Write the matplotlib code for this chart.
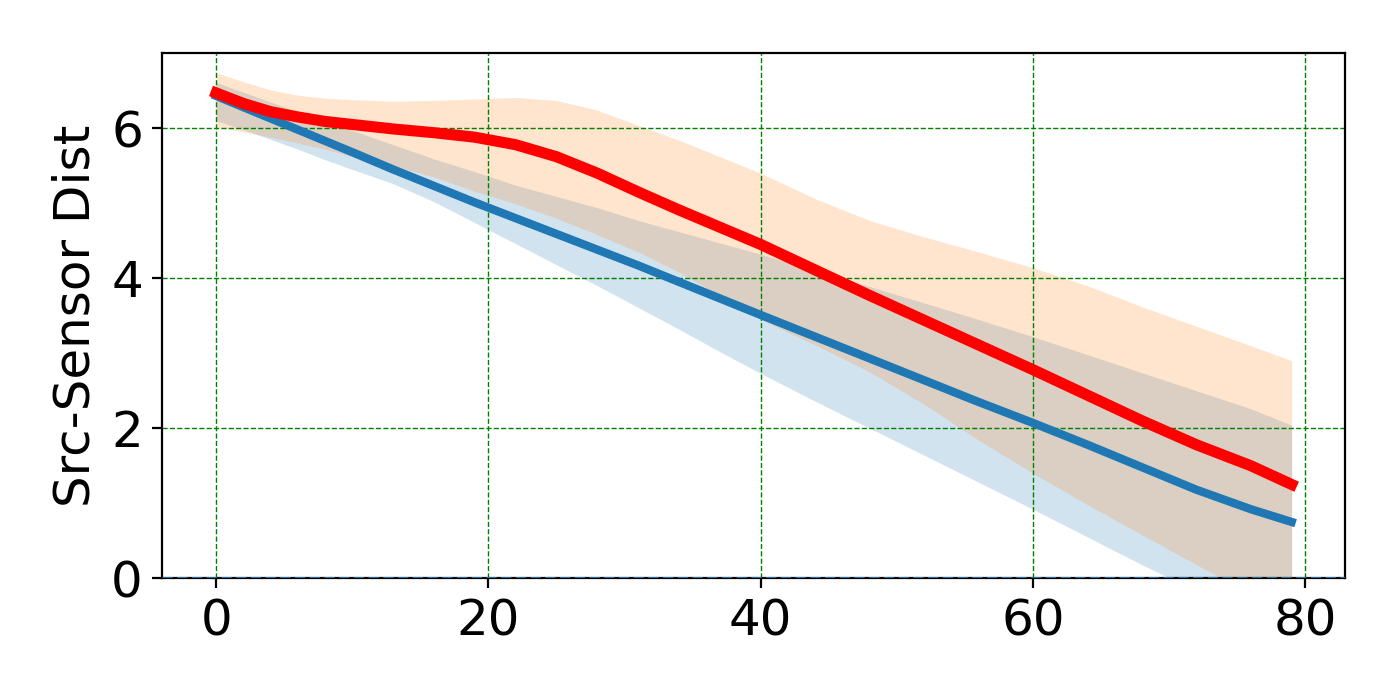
import matplotlib
matplotlib.use("Agg")
import matplotlib.pyplot as plt

# time steps
steps = [0, 2, 4, 6, 8, 10, 13, 16, 19, 22, 25, 28, 31, 34, 37, 40,
         44, 48, 52, 56, 60, 64, 68, 72, 76, 79]

# blue series + band
blue_mean = [6.43, 6.28, 6.13, 5.98, 5.83, 5.68, 5.45, 5.23, 5.01, 4.80, 4.59,
             4.38, 4.17, 3.95, 3.73, 3.51, 3.22, 2.93, 2.64, 2.35, 2.07,
             1.78, 1.48, 1.18, 0.92, 0.75]
blue_low = [6.10, 5.98, 5.85, 5.72, 5.58, 5.45, 5.26, 5.02, 4.74, 4.46, 4.18,
            3.90, 3.61, 3.32, 3.02, 2.73, 2.36, 2.00, 1.64, 1.28, 0.92,
            0.55, 0.18, -0.17, -0.52, -0.78]
blue_high = [6.61, 6.48, 6.35, 6.22, 6.10, 5.97, 5.78, 5.59, 5.42, 5.24, 5.09,
             4.94, 4.77, 4.62, 4.47, 4.32, 4.11, 3.89, 3.67, 3.45, 3.22,
             2.98, 2.74, 2.50, 2.26, 2.04]

# red series + band
red_mean = [6.47, 6.33, 6.22, 6.15, 6.09, 6.05, 5.99, 5.94, 5.88, 5.78, 5.62,
            5.40, 5.15, 4.91, 4.68, 4.45, 4.11, 3.77, 3.44, 3.11, 2.78,
            2.44, 2.10, 1.78, 1.50, 1.25]
red_low = [6.02, 5.95, 5.88, 5.80, 5.72, 5.62, 5.50, 5.35, 5.16, 4.99, 4.80,
           4.58, 4.35, 4.08, 3.77, 3.45, 3.11, 2.75, 2.32, 1.84, 1.40,
           0.98, 0.58, 0.18, -0.20, -0.50]
red_high = [6.74, 6.62, 6.51, 6.44, 6.40, 6.38, 6.36, 6.37, 6.39, 6.41, 6.37,
            6.24, 6.04, 5.84, 5.62, 5.40, 5.06, 4.77, 4.55, 4.35, 4.14,
            3.90, 3.62, 3.36, 3.10, 2.90]

plt.rcParams["font.size"] = 18

fig, ax = plt.subplots(figsize=(7, 3.5), dpi=200)
fig.subplots_adjust(left=0.116, right=0.961, bottom=0.174, top=0.924)

ax.fill_between(steps, blue_low, blue_high, color="tab:blue", alpha=0.2, lw=0)
ax.fill_between(steps, red_low, red_high, color="tab:orange", alpha=0.2, lw=0)
ax.plot(steps, blue_mean, color="tab:blue", lw=3)
ax.plot(steps, red_mean, color="r", lw=4)
ax.axhline(0, color="tab:blue", ls="--", lw=1, zorder=3)

ax.set_ylim(0, 7)
ax.set_yticks([0, 2, 4, 6])
ax.set_xticks([0, 20, 40, 60, 80])
ax.set_ylabel("Src-Sensor Dist")
ax.grid(color="g", linestyle="--", linewidth=0.5)

fig.savefig("out.png")
